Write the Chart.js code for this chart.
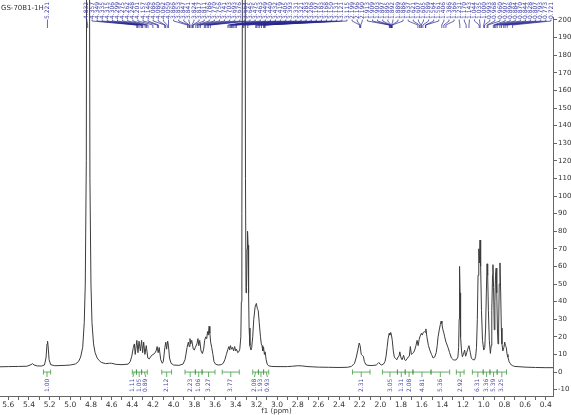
<!DOCTYPE html>
<html>
<head>
<meta charset="utf-8">
<script src="https://cdn.jsdelivr.net/npm/chart.js@4.4.1/dist/chart.umd.min.js"></script>
<style>
  html, body { margin: 0; padding: 0; background: #fff; }
  #wrap { width: 571px; height: 415px; }
</style>
</head>
<body>
<div id="wrap"><canvas id="nmr"></canvas></div>
<script>
// spectrum trace (ppm, intensity)
const ppm = [
  5.68, 5.60, 5.50, 5.42, 5.38, 5.365, 5.35, 5.32, 5.28, 5.25, 5.235, 5.225, 5.22, 5.215, 5.205, 5.19, 5.15, 5.05, 5.00,
  4.95, 4.92, 4.90, 4.88, 4.865, 4.855, 4.845, 4.835, 4.828, 4.82, 4.81, 4.80, 4.79, 4.775, 4.76, 4.74, 4.72, 4.70, 4.66,
  4.62, 4.60, 4.56, 4.50, 4.44, 4.42, 4.405, 4.39, 4.38, 4.372, 4.356, 4.345, 4.335, 4.322, 4.31, 4.30, 4.29, 4.278, 4.265,
  4.25, 4.235, 4.22, 4.20, 4.185, 4.17, 4.16, 4.15, 4.14, 4.125, 4.11, 4.10, 4.085, 4.076, 4.068, 4.058, 4.05, 4.04, 4.025,
  4.00, 3.95, 3.91, 3.89, 3.87, 3.858, 3.85, 3.842, 3.835, 3.825, 3.81, 3.80, 3.79, 3.775, 3.765, 3.757, 3.748, 3.735,
  3.722, 3.71, 3.70, 3.69, 3.68, 3.672, 3.665, 3.657, 3.65, 3.642, 3.632, 3.62, 3.61, 3.595, 3.57, 3.54, 3.52, 3.505,
  3.49, 3.475, 3.465, 3.458, 3.45, 3.44, 3.43, 3.42, 3.41, 3.40, 3.392, 3.38, 3.37, 3.36, 3.35, 3.345, 3.34, 3.335,
  3.325, 3.318, 3.31, 3.305, 3.30, 3.295, 3.29, 3.285, 3.28, 3.275, 3.27, 3.262, 3.252, 3.245, 3.235, 3.225, 3.212,
  3.20, 3.19, 3.182, 3.172, 3.16, 3.152, 3.145, 3.138, 3.13, 3.122, 3.115, 3.105, 3.095, 3.08, 3.05, 3.00, 2.90, 2.85,
  2.80, 2.76, 2.70, 2.60, 2.50, 2.40, 2.32, 2.28, 2.25, 2.235, 2.22, 2.205, 2.196, 2.185, 2.175, 2.165, 2.155, 2.14,
  2.12, 2.08, 2.04, 2.025, 2.015, 2.005, 1.99, 1.97, 1.955, 1.945, 1.935, 1.925, 1.915, 1.908, 1.90, 1.893, 1.885,
  1.875, 1.865, 1.85, 1.84, 1.83, 1.82, 1.812, 1.80, 1.79, 1.775, 1.765, 1.755, 1.742, 1.732, 1.72, 1.71, 1.70, 1.69,
  1.68, 1.668, 1.656, 1.645, 1.635, 1.625, 1.615, 1.603, 1.595, 1.585, 1.575, 1.565, 1.56, 1.55, 1.535, 1.522, 1.505,
  1.49, 1.475, 1.46, 1.45, 1.442, 1.43, 1.42, 1.412, 1.405, 1.395, 1.385, 1.378, 1.365, 1.346, 1.33, 1.313, 1.295,
  1.28, 1.265, 1.25, 1.243, 1.238, 1.234, 1.229, 1.224, 1.215, 1.207, 1.197, 1.185, 1.175, 1.165, 1.155, 1.143, 1.13,
  1.12, 1.105, 1.088, 1.078, 1.07, 1.062, 1.055, 1.048, 1.042, 1.036, 1.03, 1.022, 1.012, 1.00, 0.99, 0.982, 0.975,
  0.968, 0.962, 0.955, 0.946, 0.936, 0.928, 0.922, 0.915, 0.911, 0.905, 0.898, 0.892, 0.886, 0.88, 0.874, 0.868,
  0.862, 0.856, 0.85, 0.843, 0.836, 0.83, 0.824, 0.815, 0.805, 0.797, 0.79, 0.782, 0.774, 0.766, 0.755, 0.745, 0.733,
  0.72, 0.70, 0.65, 0.60, 0.50, 0.40, 0.33
];
const intensity = [
  3.0, 3.1, 3.2, 3.3, 4.2, 4.8, 4.0, 3.5, 3.4, 4.0, 8, 16, 17.5, 15, 7, 4.2, 3.6, 3.8, 4.0,
  4.6, 6.0, 8.5, 14, 28, 50, 120, 500, 600, 400, 110, 50, 28, 16, 11, 8, 6.5, 5.5, 4.8,
  5.0, 5.0, 4.4, 4.2, 4.5, 6, 9, 14, 16, 10, 18, 11, 17.5, 12, 18, 11, 17, 10, 15,
  8, 7.5, 9, 10, 10.5, 12, 14.5, 11, 14, 7, 5, 6, 14, 17, 13, 17.5, 15, 8, 5,
  4.0, 3.8, 4.5, 7, 14, 17, 14.5, 19, 16, 18, 13, 12.5, 14, 16, 19, 15, 18, 12,
  10.5, 13, 18, 20, 19, 23, 21, 26, 22, 17, 14, 10, 6, 4.5, 4.0, 4.2, 5.0, 7,
  10, 13, 14.5, 12.5, 15, 13, 14, 12, 14.5, 12, 13, 11, 11.5, 13, 20, 40, 90, 220,
  600, 600, 300, 110, 45, 48, 70, 80, 72, 45, 25, 15, 12.5, 14, 20, 30, 37,
  39, 36, 35, 28, 20, 16, 15, 12, 14, 10, 11.5, 7, 4.5, 3.5, 3.2, 3.1, 3.1, 3.3,
  3.6, 3.5, 3.1, 2.8, 2.7, 2.6, 2.7, 3.2, 5, 8, 12, 16.5, 15, 10, 9.5, 9, 6, 4.2,
  3.8, 3.7, 4.0, 4.8, 5.4, 4.6, 4.0, 4.5, 6, 9, 14, 19, 22, 21, 22.5, 21, 18,
  12, 8.5, 7.5, 7, 8.5, 9, 11.5, 8, 7, 9.5, 7, 6.5, 7.5, 8.5, 9, 14.5, 10, 10.5,
  11, 12.5, 15, 18, 15, 18.5, 20.5, 22, 21, 22.5, 23, 22.5, 24.5, 20, 15, 12.5, 10,
  8, 8.5, 11, 15, 20, 24, 27, 29, 27.5, 24, 22, 20, 17, 14, 11, 8, 7,
  6.8, 7, 8.5, 14, 30, 60, 45, 20, 12, 8.7, 10, 12.5, 9, 11, 13, 15, 11,
  8, 7, 7, 9, 14, 30, 55, 70, 62, 75, 60, 35, 18, 12.5, 14, 25, 45,
  61.5, 55, 35, 18, 10.6, 15, 35, 55, 61, 48, 24, 40, 55, 59, 45, 25,
  16, 25, 50, 62, 45, 25, 16, 12, 14, 17, 15, 14, 10, 8.5, 6, 5, 4,
  3.6, 3.2, 3.0, 2.8, 2.6, 2.5, 2.5
];

// picked peak labels along the top
const peakLabels = [
  "5.221",
  "4.832", "4.357", "4.349", "4.335", "4.315", "4.306", "4.299", "4.275", "4.262", "4.248", "4.201", "4.157", "4.146",
  "4.086", "4.080", "4.062", "4.050",
  "3.866", "3.853", "3.847", "3.841", "3.824", "3.817", "3.811", "3.786", "3.770", "3.756", "3.741", "3.703", "3.693",
  "3.676", "3.664", "3.645",
  "3.475", "3.463", "3.449", "3.440", "3.432", "3.419", "3.405", "3.393", "3.331", "3.321", "3.283", "3.206", "3.197",
  "3.183", "3.168", "3.150", "3.131", "3.121", "3.115",
  "2.199", "2.196", "2.190", "1.913", "1.909", "1.903", "1.897", "1.895", "1.892", "1.889", "1.886",
  "1.637", "1.621", "1.607", "1.605", "1.589", "1.564", "1.561", "1.406", "1.386", "1.366", "1.231",
  "1.170", "1.143", "1.044", "1.035", "1.000", "0.993", "0.968", "0.960", "0.907", "0.896", "0.884", "0.870",
  "0.844", "0.828", "0.807", "0.793", "0.773", "0.721"
];

// integral regions
const intStart = [5.26, 4.40, 4.36, 4.31, 4.115, 3.89, 3.79, 3.725, 3.53, 3.235, 3.18, 3.13, 2.27, 1.98, 1.835, 1.76, 1.685, 1.51, 1.265, 1.11, 1.005, 0.94, 0.87];
const intEnd   = [5.19, 4.36, 4.31, 4.255, 4.02, 3.79, 3.725, 3.60, 3.365, 3.18, 3.13, 3.08, 2.10, 1.835, 1.76, 1.685, 1.51, 1.33, 1.19, 1.005, 0.94, 0.87, 0.78];
const intValue = ["1.00", "1.11", "1.05", "0.89", "2.12", "2.23", "1.06", "3.27", "3.77", "2.08", "1.93", "0.93", "2.31", "3.05", "1.31", "2.08", "4.81", "5.36", "2.92", "6.31", "3.36", "5.39", "3.25"];

const xTicks = [];
for (let i = 4; i <= 56; i++) xTicks.push(i / 10);
const yTicks = [];
for (let v = -10; v <= 200; v += 5) yTicks.push(v);

// cluster spreading, used for integral numbers
function spread(xs, gap, lo, hi) {
  let cl = xs.map(x => ({ sum: x, n: 1 }));
  const startOf = c => c.sum / c.n - (c.n - 1) * gap / 2;
  let merged = true;
  while (merged) {
    merged = false;
    for (let i = 0; i < cl.length - 1; i++) {
      const a = cl[i], b = cl[i + 1];
      if (startOf(a) + a.n * gap > startOf(b)) {
        cl.splice(i, 2, { sum: a.sum + b.sum, n: a.n + b.n });
        merged = true;
        break;
      }
    }
  }
  const out = [];
  cl.forEach(c => {
    let s = startOf(c);
    s = Math.min(s, hi - (c.n - 1) * gap);
    s = Math.max(s, lo);
    for (let k = 0; k < c.n; k++) out.push(s + k * gap);
  });
  return out;
}

// push right from each peak, then pull back from the right edge
function pack(xs, gap, hi) {
  const out = [];
  xs.forEach((x, i) => out.push(i ? Math.max(x, out[i - 1] + gap) : x));
  for (let i = out.length - 1; i >= 0; i--) {
    out[i] = Math.min(out[i], i === out.length - 1 ? hi : out[i + 1] - gap);
  }
  return out;
}

function vText(ctx, txt, x, y) {
  ctx.save();
  ctx.translate(x, y);
  ctx.rotate(-Math.PI / 2);
  ctx.fillText(txt, 0, 0);
  ctx.restore();
}

const annotations = {
  id: "annotations",
  afterDatasetsDraw(chart) {
    const ctx = chart.ctx;
    const xs = chart.scales.x, ys = chart.scales.y;
    ctx.save();

    ctx.fillStyle = "#333";
    ctx.font = "7px 'DejaVu Sans'";
    ctx.textAlign = "left";
    ctx.textBaseline = "middle";
    ctx.fillText("GS-70B1-1H", 1, 8);

    // peak labels + connectors
    const peakX = peakLabels.map(s => xs.getPixelForValue(parseFloat(s)));
    const labX = pack(peakX, 5.1, chart.chartArea.right - 2);
    ctx.strokeStyle = "#24248c";
    ctx.lineWidth = 0.7;
    peakX.forEach((px, i) => {
      ctx.beginPath();
      ctx.moveTo(labX[i], 19.5);
      ctx.lineTo(labX[i], 21);
      ctx.lineTo(px, 25);
      ctx.lineTo(px, 28);
      ctx.stroke();
    });
    ctx.fillStyle = "#3a3aa0";
    ctx.font = "6px 'DejaVu Sans'";
    ctx.textBaseline = "middle";
    peakLabels.forEach((s, i) => vText(ctx, s, labX[i], 19));

    // integrals
    const y0 = ys.getPixelForValue(0);
    const mids = intStart.map((a, i) => xs.getPixelForValue((a + intEnd[i]) / 2));
    const numX = spread(mids, 6.5, 2, chart.chartArea.right - 4);
    ctx.strokeStyle = "#3f9a3f";
    ctx.lineWidth = 0.8;
    intStart.forEach((a, i) => {
      const x1 = xs.getPixelForValue(a), x2 = xs.getPixelForValue(intEnd[i]);
      ctx.beginPath();
      ctx.moveTo(x1, y0); ctx.lineTo(x2, y0);
      ctx.moveTo(x1, y0 - 2.5); ctx.lineTo(x1, y0 + 2.5);
      ctx.moveTo(x2, y0 - 2.5); ctx.lineTo(x2, y0 + 2.5);
      ctx.moveTo(mids[i], y0); ctx.lineTo(numX[i], y0 + 5);
      ctx.stroke();
    });
    ctx.fillStyle = "#4a4aa8";
    ctx.font = "6px 'DejaVu Sans'";
    intValue.forEach((s, i) => vText(ctx, s, numX[i], y0 + 20));

    ctx.restore();
  }
};

new Chart(document.getElementById("nmr"), {
  type: "line",
  data: {
    datasets: [{
      data: ppm.map((x, i) => ({ x: x, y: intensity[i] })),
      borderColor: "#3c3c3c",
      borderWidth: 1,
      pointRadius: 0,
      tension: 0,
      clip: false
    }]
  },
  options: {
    responsive: true,
    maintainAspectRatio: false,
    animation: false,
    layout: { padding: { top: 17, left: 0, right: 0, bottom: 0 } },
    plugins: { legend: { display: false }, tooltip: { enabled: false } },
    scales: {
      x: {
        type: "linear",
        reverse: true,
        min: 0.33,
        max: 5.68,
        afterBuildTicks: s => { s.ticks = xTicks.map(v => ({ value: v })); },
        afterFit: s => { s.height = 19; },
        border: { color: "#666" },
        grid: { drawOnChartArea: false, tickLength: 4, color: "#666" },
        ticks: {
          autoSkip: false,
          maxRotation: 0,
          padding: 1,
          color: "#333",
          font: { family: "DejaVu Sans", size: 7.5 },
          callback: v => (Math.round(v * 10) % 2 === 0 ? v.toFixed(1) : "")
        },
        title: { display: true, text: "f1 (ppm)", color: "#333", padding: 0, font: { family: "DejaVu Sans", size: 7 } }
      },
      y: {
        position: "right",
        min: -13.6,
        max: 201.7,
        afterBuildTicks: s => { s.ticks = yTicks.map(v => ({ value: v })); },
        afterFit: s => { s.width = 18; },
        border: { color: "#666" },
        grid: { drawOnChartArea: false, tickLength: 4, color: "#666" },
        ticks: {
          padding: 1,
          color: "#333",
          font: { family: "DejaVu Sans", size: 7 },
          callback: v => (v % 10 === 0 ? String(v) : "")
        }
      }
    }
  },
  plugins: [annotations]
});
</script>
</body>
</html>
